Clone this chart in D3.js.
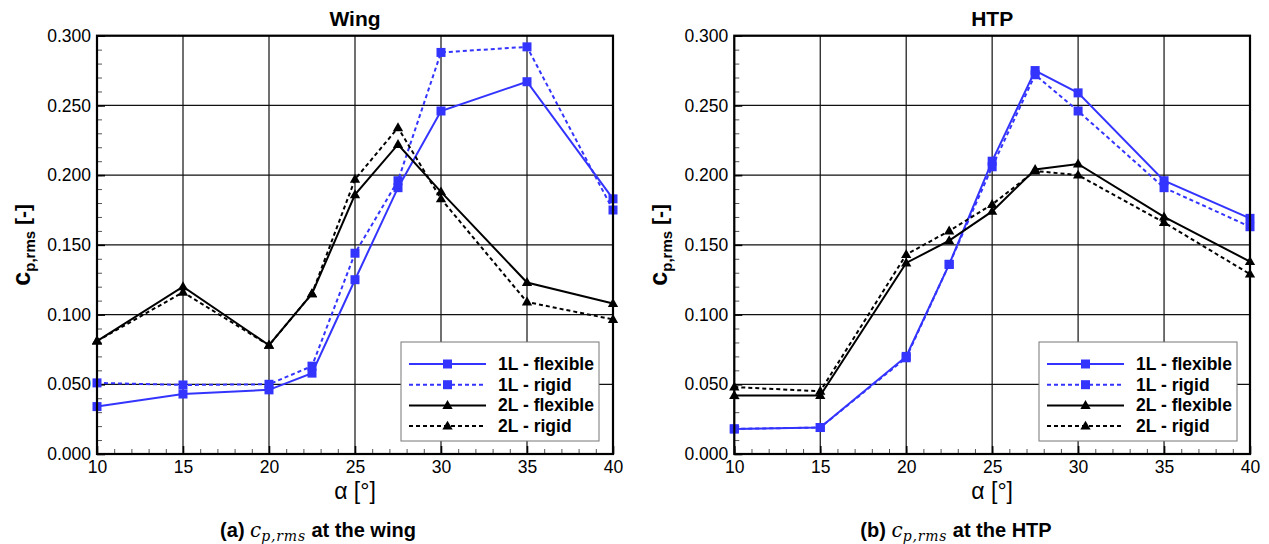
<!DOCTYPE html>
<html>
<head>
<meta charset="utf-8">
<script src="https://cdn.jsdelivr.net/npm/d3@7"></script>
<style>
    body { margin: 0; background: #fff; }
    svg { display: block; font-family: "Liberation Sans", Arial, sans-serif; }
    .grid line { stroke: #111; stroke-width: 1.2; }
    .frame { fill: none; stroke: #000; stroke-width: 2.2; }
    .axis text { font-size: 17.5px; fill: #000; }
    .axis path { display: none; }
    .axis line { stroke: #000; stroke-width: 1.6; }
    .minor line { stroke: #555; stroke-width: 1; }
    .minor text { display: none; }
    .minor path { display: none; }
    .series { fill: none; stroke-width: 2; }
</style>
</head>
<body>
<div id="chart"></div>
<script>
// angle of attack [deg]
var alpha = [10, 15, 20, 22.5, 25, 27.5, 30, 35, 40];

// wing c_p,rms
var wing1LFlexible = [0.034, 0.043, 0.046, 0.058, 0.125, 0.191, 0.246, 0.267, 0.183];
var wing1LRigid    = [0.051, 0.0495, 0.050, 0.063, 0.144, 0.196, 0.288, 0.292, 0.175];
var wing2LFlexible = [0.081, 0.120, 0.078, 0.115, 0.186, 0.222, 0.188, 0.123, 0.108];
var wing2LRigid    = [0.081, 0.116, 0.078, 0.115, 0.197, 0.234, 0.183, 0.109, 0.0965];

// HTP c_p,rms
var htp1LFlexible = [0.018, 0.019, 0.070, 0.136, 0.210, 0.275, 0.259, 0.196, 0.169];
var htp1LRigid    = [0.018, 0.019, 0.069, 0.136, 0.206, 0.272, 0.246, 0.191, 0.163];
var htp2LFlexible = [0.042, 0.042, 0.137, 0.153, 0.174, 0.204, 0.208, 0.170, 0.138];
var htp2LRigid    = [0.048, 0.045, 0.143, 0.160, 0.179, 0.203, 0.200, 0.166, 0.129];

var seriesNames = ['1L - flexible', '1L - rigid', '2L - flexible', '2L - rigid'];
var xTicks = [10, 15, 20, 25, 30, 35, 40];
var yTicks = [0, 0.05, 0.10, 0.15, 0.20, 0.25, 0.30];

var BLUE = '#3434ff';
var styles = [
    {color: BLUE, dash: null, marker: 'square'},
    {color: BLUE, dash: '4,3', marker: 'square'},
    {color: '#000', dash: null, marker: 'triangle'},
    {color: '#000', dash: '4,3', marker: 'triangle'}
];

var width = 1269;
var height = 544;

var svg = d3.select('#chart').append('svg')
    .attr('width', width)
    .attr('height', height);

svg.append('rect').attr('width', width).attr('height', height).attr('fill', '#fff');

function drawMarker(g, type, cx, cy, color) {
    if (type === 'square') {
        g.append('rect')
            .attr('x', cx - 4.5).attr('y', cy - 4.5)
            .attr('width', 9).attr('height', 9)
            .attr('fill', color);
    } else {
        g.append('path')
            .attr('d', d3.symbol().type(d3.symbolTriangle).size(46)())
            .attr('transform', 'translate(' + cx + ',' + (cy + 0.5) + ')')
            .attr('fill', color);
    }
}

function drawPanel(opts) {
    var x0 = opts.left, x1 = opts.right, y0 = 35.7, y1 = 454;
    var xScale = d3.scaleLinear().domain([10, 40]).range([x0, x1]);
    var yScale = d3.scaleLinear().domain([0, 0.3]).range([y1, y0]);
    var g = svg.append('g');

    // grid
    var grid = g.append('g').attr('class', 'grid');
    grid.selectAll('line.v').data(xTicks).enter().append('line')
        .attr('x1', function (d) { return xScale(d); }).attr('x2', function (d) { return xScale(d); })
        .attr('y1', y0).attr('y2', y1);
    grid.selectAll('line.h').data(yTicks).enter().append('line')
        .attr('x1', x0).attr('x2', x1)
        .attr('y1', function (d) { return yScale(d); }).attr('y2', function (d) { return yScale(d); });

    // minor ticks (inside)
    g.append('g').attr('class', 'minor')
        .attr('transform', 'translate(' + x0 + ',0)')
        .call(d3.axisLeft(yScale).tickValues(d3.range(0, 31).map(function (i) { return i / 100; }))
            .tickSizeInner(-5).tickSizeOuter(0).tickFormat(''));
    g.append('g').attr('class', 'minor')
        .attr('transform', 'translate(0,' + y1 + ')')
        .call(d3.axisBottom(xScale).tickValues(d3.range(10, 41))
            .tickSizeInner(-5).tickSizeOuter(0).tickFormat(''));

    // major axes
    g.append('g').attr('class', 'axis')
        .attr('transform', 'translate(' + x0 + ',0)')
        .call(d3.axisLeft(yScale).tickValues(yTicks).tickFormat(d3.format('.3f'))
            .tickSizeInner(-8).tickSizeOuter(0).tickPadding(6));
    g.append('g').attr('class', 'axis')
        .attr('transform', 'translate(0,' + y1 + ')')
        .call(d3.axisBottom(xScale).tickValues(xTicks).tickFormat(d3.format('d'))
            .tickSizeInner(-8).tickSizeOuter(0).tickPadding(7));

    // series
    var line = d3.line()
        .x(function (d) { return xScale(d[0]); })
        .y(function (d) { return yScale(d[1]); });
    opts.series.forEach(function (vals, i) {
        var st = styles[i];
        var pts = alpha.map(function (a, j) { return [a, vals[j]]; });
        g.append('path').attr('class', 'series')
            .attr('d', line(pts))
            .attr('stroke', st.color)
            .attr('stroke-dasharray', st.dash);
        var mg = g.append('g');
        pts.forEach(function (p) {
            drawMarker(mg, st.marker, xScale(p[0]), yScale(p[1]), st.color);
        });
    });

    // frame
    g.append('rect').attr('class', 'frame')
        .attr('x', x0).attr('y', y0)
        .attr('width', x1 - x0).attr('height', y1 - y0);

    // legend
    var lg = g.append('g').attr('transform', 'translate(' + opts.legendX + ',342)');
    lg.append('rect')
        .attr('width', 198).attr('height', 99)
        .attr('fill', '#fff').attr('stroke', '#777').attr('stroke-width', 1);
    seriesNames.forEach(function (name, i) {
        var st = styles[i];
        var yy = 22 + i * 20.7;
        lg.append('line')
            .attr('x1', 8).attr('x2', 85)
            .attr('y1', yy).attr('y2', yy)
            .attr('stroke', st.color).attr('stroke-width', 2)
            .attr('stroke-dasharray', st.dash);
        drawMarker(lg, st.marker, 46.5, yy, st.color);
        lg.append('text')
            .attr('x', 97).attr('y', yy + 6)
            .attr('font-size', '17.5px').attr('font-weight', 'bold')
            .text(name);
    });

    // title
    g.append('text')
        .attr('x', (x0 + x1) / 2).attr('y', 26)
        .attr('text-anchor', 'middle')
        .attr('font-size', '21px').attr('font-weight', 'bold')
        .text(opts.title);

    // x axis title
    g.append('text')
        .attr('x', (x0 + x1) / 2).attr('y', 499)
        .attr('text-anchor', 'middle')
        .attr('font-size', '23px')
        .text('\u03b1 [\u00b0]');

    // y axis title
    var yt = g.append('text')
        .attr('transform', 'translate(' + opts.yLabelX + ',' + ((y0 + y1) / 2) + ') rotate(-90)')
        .attr('text-anchor', 'middle')
        .attr('font-weight', 'bold');
    yt.append('tspan').attr('font-size', '25px').text('c');
    yt.append('tspan').attr('font-size', '15px').attr('dy', 5).text('p,rms');
    yt.append('tspan').attr('font-size', '21px').attr('dy', -5).text(' [-]');

    // caption
    var cap = g.append('text')
        .attr('x', opts.captionX).attr('y', 537)
        .attr('text-anchor', 'middle')
        .attr('font-size', '20px').attr('font-weight', 'bold');
    cap.append('tspan').text(opts.captionPrefix + ' ');
    cap.append('tspan').attr('font-family', '"DejaVu Serif", serif').attr('font-style', 'italic')
        .attr('font-weight', 'normal').attr('font-size', '20px').text('c');
    cap.append('tspan').attr('font-family', '"DejaVu Serif", serif').attr('font-style', 'italic')
        .attr('font-weight', 'normal').attr('font-size', '14px').attr('letter-spacing', '0.8px')
        .attr('dy', 4).text('p,rms');
    cap.append('tspan').attr('dy', -4).attr('letter-spacing', '0px').text(' ' + opts.captionText);
}

drawPanel({
    left: 97, right: 613, title: 'Wing', legendX: 401, yLabelX: 30,
    captionX: 318, captionPrefix: '(a)', captionText: 'at the wing',
    series: [wing1LFlexible, wing1LRigid, wing2LFlexible, wing2LRigid]
});
drawPanel({
    left: 734.3, right: 1250, title: 'HTP', legendX: 1039, yLabelX: 667,
    captionX: 956, captionPrefix: '(b)', captionText: 'at the HTP',
    series: [htp1LFlexible, htp1LRigid, htp2LFlexible, htp2LRigid]
});
</script>
</body>
</html>
